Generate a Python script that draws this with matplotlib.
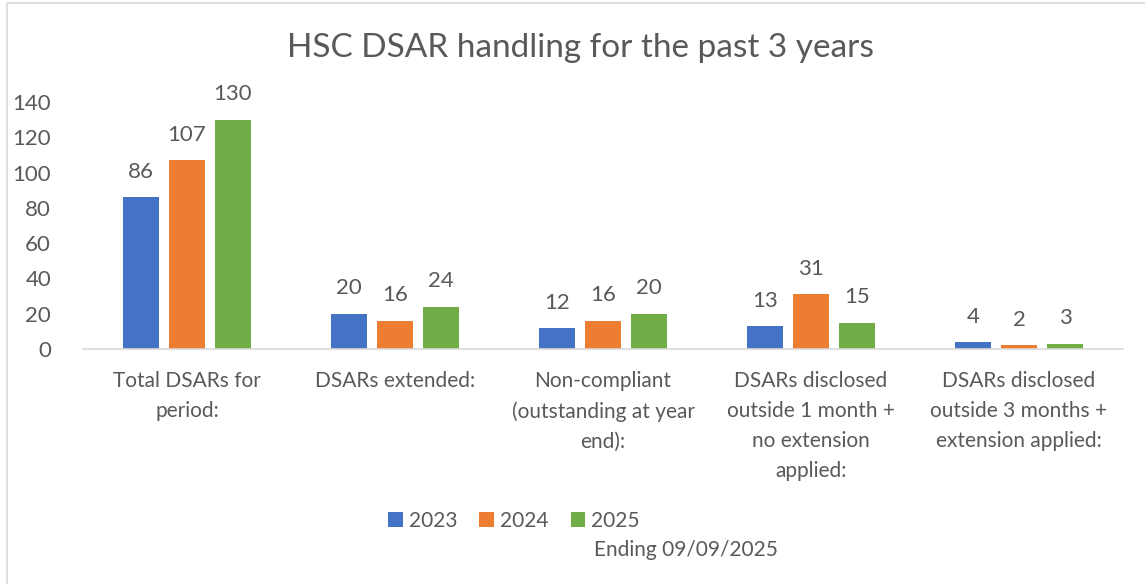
import matplotlib
matplotlib.use("Agg")
import matplotlib.pyplot as plt
from matplotlib.patches import Rectangle
import numpy as np

categories = ["Total DSARs for\nperiod:", "DSARs extended:", "Non-compliant\n(outstanding at year\nend):",
              "DSARs disclosed\noutside 1 month +\nno extension\napplied:", "DSARs disclosed\noutside 3 months +\nextension applied:"]
series_names = ["2023", "2024", "2025"]
v2023 = [86, 20, 12, 13, 4]
v2024 = [107, 16, 16, 31, 2]
v2025 = [130, 24, 20, 15, 3]
yticks = [0, 20, 40, 60, 80, 100, 120, 140]
colors = ["#4472C4", "#ED7D31", "#70AD47"]
txt = "#595959"

plt.rcParams['font.family'] = ['Lato', 'DejaVu Sans']
fig = plt.figure(figsize=(11.45, 5.84), dpi=100)
W, H = 1145, 584
ax = fig.add_axes([83 / W, 1 - 349 / H, (1123 - 83) / W, (349 - 102) / H])

x = np.arange(len(categories))
bw = 36 / 208
step = 46 / 208
for i, (vals, c, n) in enumerate(zip([v2023, v2024, v2025], colors, series_names)):
    xs = x + (i - 1) * step
    ax.bar(xs, vals, width=bw, color=c, label=n)
    for xx, v in zip(xs, vals):
        ax.annotate(str(v), (xx, v), xytext=(0, 11), textcoords="offset points",
                    ha="center", va="bottom", fontsize=16, color=txt)

ax.set_xlim(-0.5, len(categories) - 0.5)
ax.set_ylim(0, 140)
ax.set_yticks(yticks)
ax.set_yticklabels([str(t) for t in yticks], fontsize=16, color=txt)
ax.tick_params(axis='y', length=0, pad=23)
ax.set_xticks(x)
ax.set_xticklabels(categories, fontsize=15, color=txt, linespacing=1.62, va="top")
ax.tick_params(axis='x', length=0, pad=16)
for s in ["top", "right", "left"]:
    ax.spines[s].set_visible(False)
ax.spines["bottom"].set_color("#D9D9D9")
ax.spines["bottom"].set_linewidth(1.2)

fig.text(580 / W, 1 - 48 / H, "HSC DSAR handling for the past 3 years", ha="center", va="center",
         fontsize=24, color=txt)

leg = fig.legend(loc="center", bbox_to_anchor=(514 / W, 1 - 521 / H), ncol=3, frameon=False,
                 fontsize=15, handlelength=0.7, handleheight=0.7, handletextpad=0.3,
                 columnspacing=1.05, labelcolor=txt)
fig.text(594 / W, 1 - 550 / H, "Ending 09/09/2025", ha="left", va="center", fontsize=15, color=txt)

fig.patches.append(Rectangle((7 / W, -0.1), 1.2, 1 - 3 / H + 0.1, transform=fig.transFigure,
                             fill=False, edgecolor="#D9D9D9", linewidth=1.2))

fig.savefig("out.png", dpi=100)
